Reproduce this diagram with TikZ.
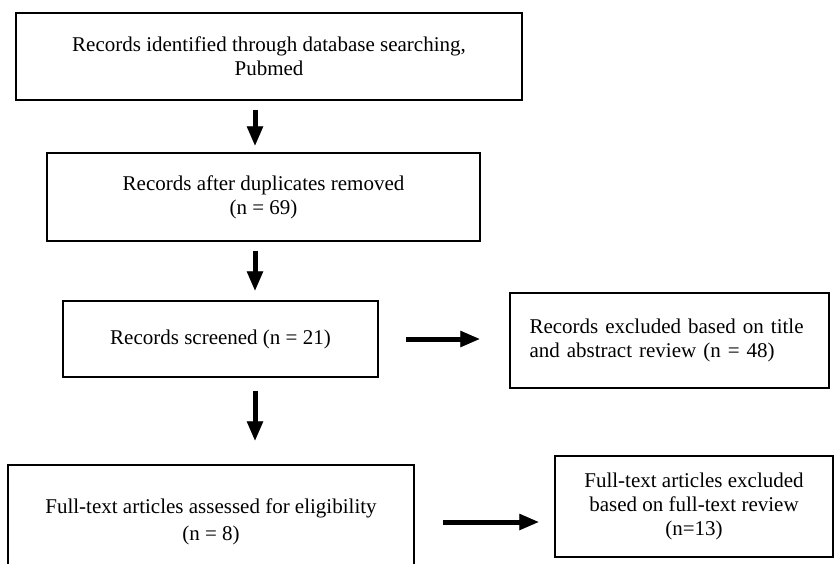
\documentclass[tikz,border=0pt]{standalone}
\usepackage{fontspec}
\setmainfont{Liberation Serif}
\usetikzlibrary{arrows.meta}
\tikzset{
  box/.style={draw=black, line width=1.5pt, inner sep=0pt, align=center,
    font=\fontsize{21}{24}\selectfont},
  blockarrow/.style={line width=5pt, -{Triangle[width=15pt,length=20pt]}},
  arrowshadow/.style={blockarrow, draw=black!40, fill=black!40, xshift=1.5pt, yshift=-3.5pt},
  arrowmain/.style={blockarrow, draw=black, fill=black},
}
\begin{document}
\begin{tikzpicture}[x=1pt,y=-1pt]
\useasboundingbox (0,0) rectangle (835,563);
\clip (0,0) rectangle (835,563);
\fill[white] (0,0) rectangle (835,563);
\coordinate (ax) at (255,0);
\node[box, minimum width=506pt, minimum height=87pt] (b1) at (269,56.5)
  {Records identified through database searching,\\Pubmed};
\node[box, minimum width=433pt, minimum height=88pt] (b2) at (263.5,197)
  {Records after duplicates removed\\(n = 69)};
\node[box, minimum width=315pt, minimum height=76pt] (b3) at (220.5,339)
  {Records screened (n = 21)};
\node[box, minimum width=406pt, minimum height=114pt,
  font=\fontsize{21}{27}\selectfont] (b4) at (211,522)
  {Full-text articles assessed for eligibility\\(n = 8)};
\node[box, minimum width=319pt, minimum height=95pt, text width=280pt, align=left] (b5) at (669.5,340.5)
  {Records excluded based on title\\and abstract review (n = 48)};
\node[box, minimum width=278pt, minimum height=101pt] (b6) at (694,506.5)
  {Full-text articles excluded\\based on full-text review\\(n=13)};
% vertical arrows
\foreach \st in {arrowshadow, arrowmain}{
  \draw[\st, shorten <=9pt, shorten >=6pt] (b1.south -| ax) -- (b2.north -| ax);
  \draw[\st, shorten <=9pt, shorten >=9pt] (b2.south -| ax) -- (b3.north -| ax);
  \draw[\st, shorten <=13pt, shorten >=23pt] (b3.south -| ax) -- (b4.north -| ax);
}
% horizontal arrows
\draw[arrowshadow, yshift=2pt, shorten <=27pt, shorten >=29pt] (b3.east) -- (b3.east -| b5.west);
\draw[arrowmain, yshift=2pt, shorten <=27pt, shorten >=29pt] (b3.east) -- (b3.east -| b5.west);
\draw[arrowshadow, yshift=7pt, shorten <=28pt, shorten >=15pt] (b4.east) -- (b4.east -| b6.west);
\draw[arrowmain, yshift=7pt, shorten <=28pt, shorten >=15pt] (b4.east) -- (b4.east -| b6.west);
\end{tikzpicture}
\end{document}
